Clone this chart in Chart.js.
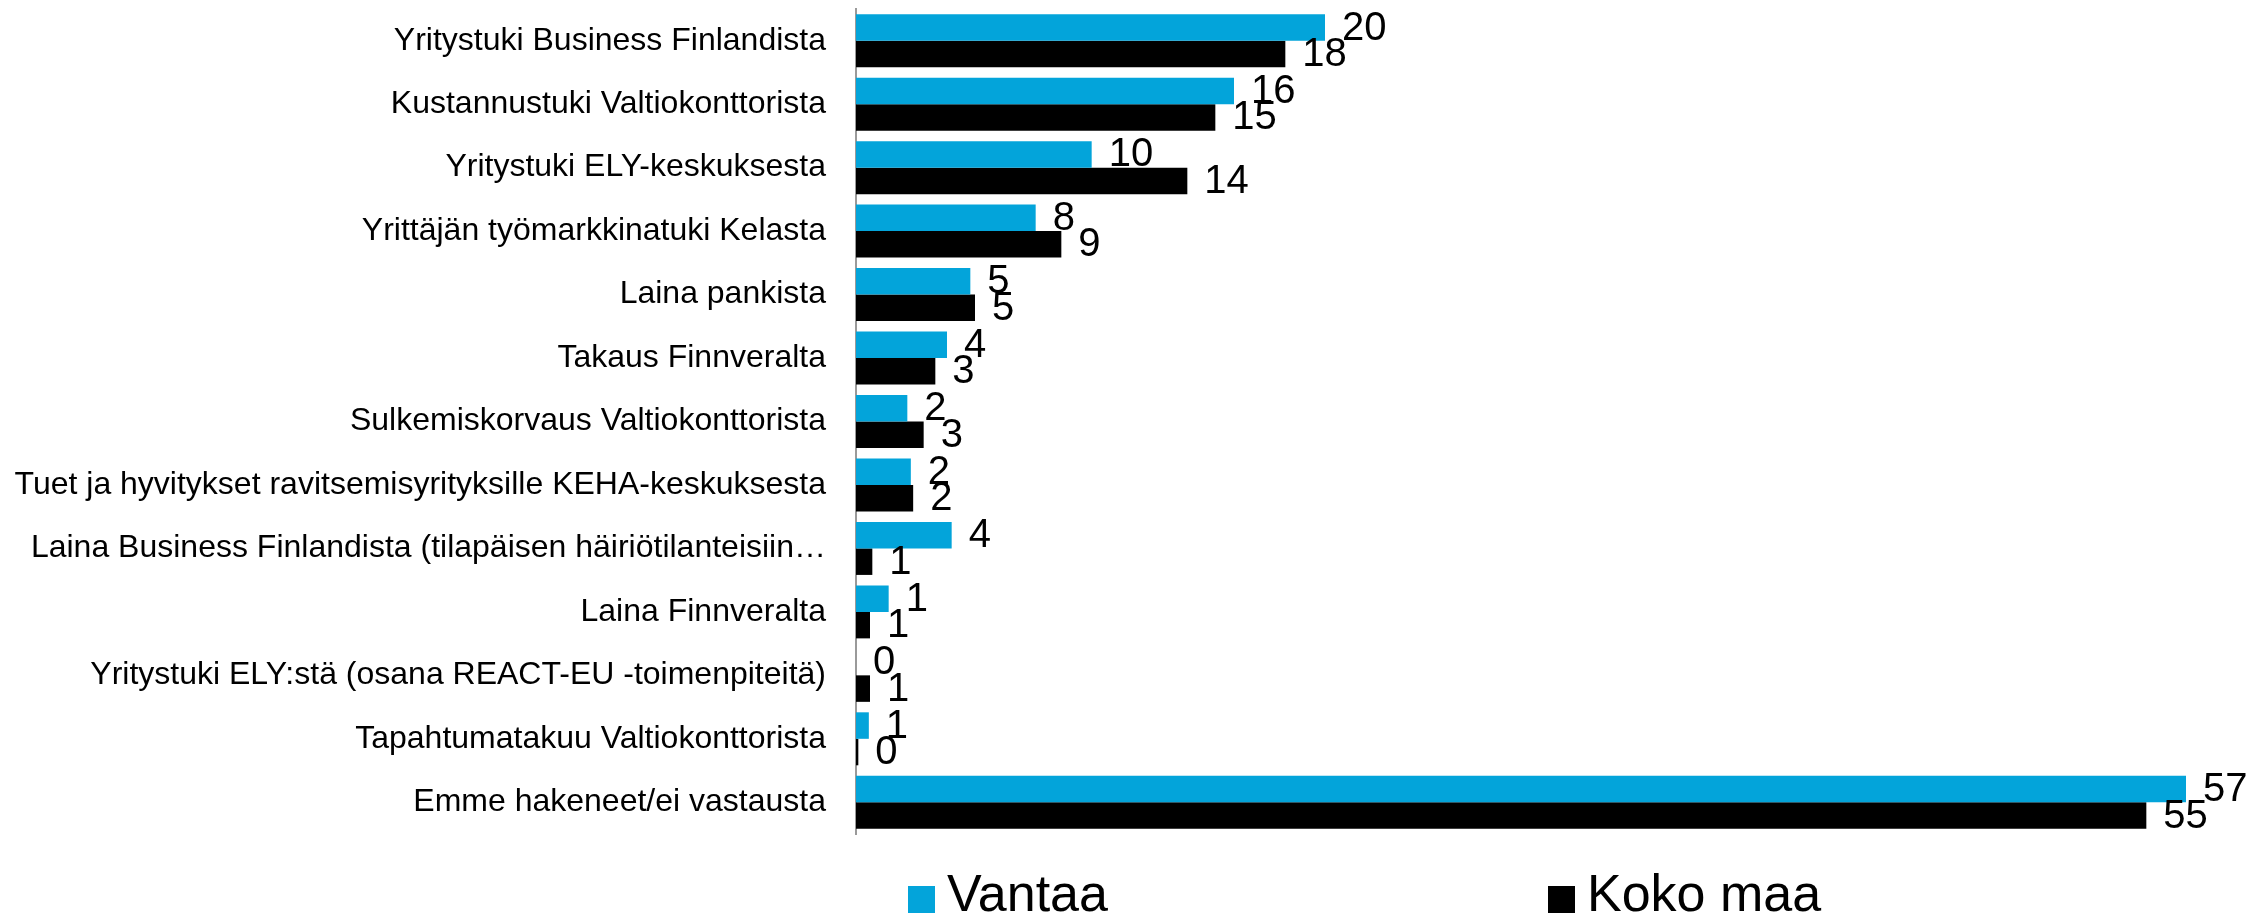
<!DOCTYPE html>
<html>
<head>
<meta charset="utf-8">
<title>Haetut tuet</title>
<script src="https://cdn.jsdelivr.net/npm/chart.js@4.4.0/dist/chart.umd.min.js"></script>
<style>
    body { margin: 0; background: #fff; }
    #wrap { width: 2266px; height: 918px; }
</style>
</head>
<body>
<div id="wrap"><canvas id="graph-bar" width="2266" height="918"></canvas></div>
<script>
const gb = document.getElementById('graph-bar');

var categories = [
    "Yritystuki Business Finlandista",
    "Kustannustuki Valtiokonttorista",
    "Yritystuki ELY-keskuksesta",
    "Yrittäjän työmarkkinatuki Kelasta",
    "Laina pankista",
    "Takaus Finnveralta",
    "Sulkemiskorvaus Valtiokonttorista",
    "Tuet ja hyvitykset ravitsemisyrityksille KEHA-keskuksesta",
    "Laina Business Finlandista (tilapäisen häiriötilanteisiin…",
    "Laina Finnveralta",
    "Yritystuki ELY:stä (osana REACT-EU -toimenpiteitä)",
    "Tapahtumatakuu Valtiokonttorista",
    "Emme hakeneet/ei vastausta"
];
var vantaa = [20.1, 16.2, 10.1, 7.7, 4.9, 3.9, 2.2, 2.35, 4.1, 1.4, 0, 0.55, 57];
var kokoMaa = [18.4, 15.4, 14.2, 8.8, 5.1, 3.4, 2.9, 2.45, 0.7, 0.6, 0.6, 0.1, 55.3];
var seriesNames = ["Vantaa", "Koko maa"];
var seriesColors = ["#03a4da", "#000000"];

var fontFamily = "'Liberation Sans', Arial, sans-serif";

// value labels after bar end, rounded like in the source
var valueLabels = {
    id: 'valueLabels',
    afterDatasetsDraw: function(chart) {
        var ctx = chart.ctx;
        ctx.save();
        ctx.font = "40px " + fontFamily;
        ctx.fillStyle = "#000";
        ctx.textAlign = "left";
        ctx.textBaseline = "middle";
        chart.data.datasets.forEach(function(ds, i) {
            var meta = chart.getDatasetMeta(i);
            meta.data.forEach(function(bar, j) {
                ctx.fillText(Math.round(ds.data[j]), bar.x + 17, bar.y + 1);
            });
        });
        ctx.restore();
    }
};

// legend below the plot, spread like the original
var bottomLegend = {
    id: 'bottomLegend',
    afterDraw: function(chart) {
        var ctx = chart.ctx;
        var area = chart.chartArea;
        var y = area.bottom + 65;
        var starts = [area.left + 52, area.left + 692];
        ctx.save();
        ctx.font = "52px " + fontFamily;
        ctx.textBaseline = "middle";
        chart.data.datasets.forEach(function(ds, i) {
            ctx.fillStyle = ds.backgroundColor;
            ctx.fillRect(starts[i], y - 13, 27, 27);
            ctx.fillStyle = "#000";
            ctx.fillText(ds.label, starts[i] + 39, y - 2);
        });
        ctx.restore();
    }
};

var chart = new Chart(gb, {
    type: 'bar',
    data: {
        labels: categories,
        datasets: [
            {label: seriesNames[0], data: vantaa, backgroundColor: seriesColors[0], borderWidth: 0},
            {label: seriesNames[1], data: kokoMaa, backgroundColor: seriesColors[1], borderWidth: 0}
        ]
    },
    options: {
        indexAxis: 'y',
        responsive: false,
        animation: false,
        devicePixelRatio: 1,
        categoryPercentage: 0.835,
        barPercentage: 1.0,
        layout: {padding: {top: 9, bottom: 84, right: 10, left: 0}},
        plugins: {
            legend: {display: false},
            tooltip: {enabled: false}
        },
        scales: {
            x: {
                display: false,
                min: 0,
                max: 60
            },
            y: {
                // tick marks hidden, their length only spaces the labels from the axis
                grid: {display: false, drawTicks: true, tickLength: 30},
                border: {display: true, color: '#9a9a9a', width: 2},
                ticks: {
                    color: '#000',
                    padding: 0,
                    font: {family: fontFamily, size: 32, lineHeight: 0.5}
                },
                afterFit: function(scale) {
                    scale.width = 856;
                }
            }
        }
    },
    plugins: [valueLabels, bottomLegend]
});
</script>
</body>
</html>
